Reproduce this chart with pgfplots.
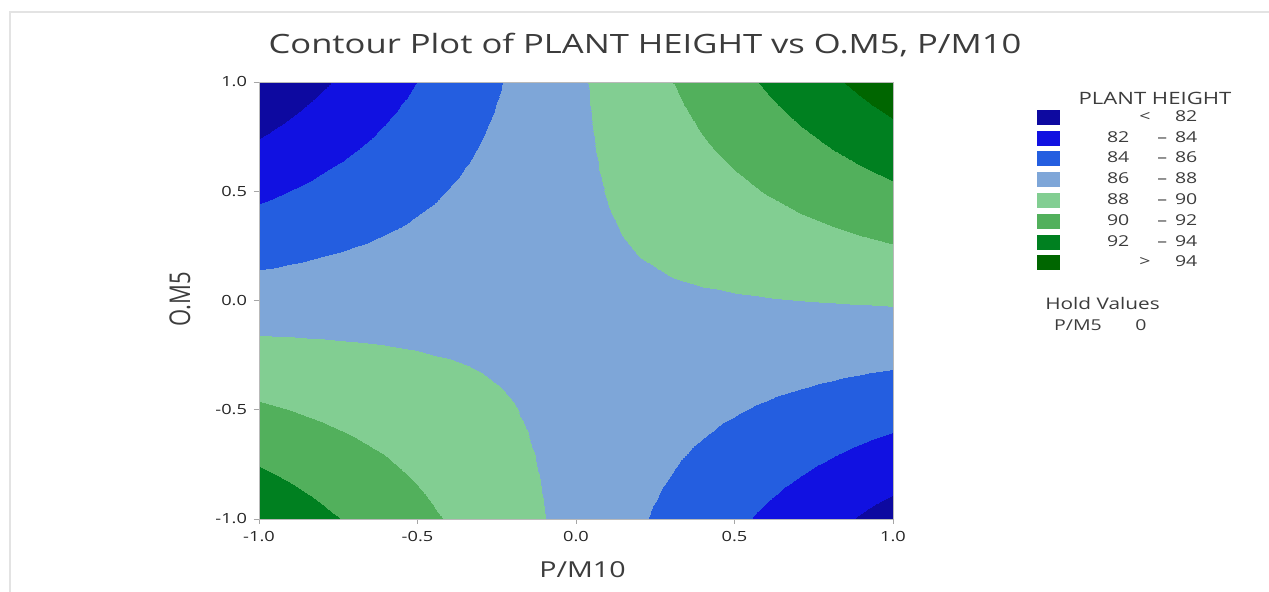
\documentclass[border=0pt]{standalone}
\usepackage{pgfplots}
\pgfplotsset{compat=1.18}
\usepackage{fontspec}
\setmainfont{Open Sans}
\usepackage{graphicx}
\newcommand\hs[1]{\scalebox{1.3}[1]{#1}}
\definecolor{txt}{RGB}{60,60,60}
\definecolor{cA}{RGB}{13,9,160}
\definecolor{cB}{RGB}{17,17,225}
\definecolor{cC}{RGB}{36,94,224}
\definecolor{cD}{RGB}{126,166,216}
\definecolor{cE}{RGB}{130,206,146}
\definecolor{cF}{RGB}{82,176,92}
\definecolor{cG}{RGB}{0,128,32}
\definecolor{cH}{RGB}{0,102,0}
\newcommand\lgA[2]{\makebox[34.5pt][r]{\hs{#1}}\makebox[20.5pt][l]{\hspace{14pt}\hs{–}}\makebox[13.5pt][r]{\hs{#2}}}
\newcommand\lgB[2]{\makebox[34.5pt][r]{}\makebox[20.5pt][l]{\hspace{5pt}\hs{#1}}\makebox[13.5pt][r]{\hs{#2}}}
\begin{document}
\begin{tikzpicture}
\useasboundingbox (-129.5pt,-36.5pt) rectangle (505pt,259.5pt);
\draw[gray!22, line width=0.6pt] (-124.5pt,-36.5pt) -- (-124.5pt,253.5pt) -- (505pt,253.5pt);
\begin{axis}[
  at={(0pt,0pt)}, anchor=south west,
  view={0}{90},
  width=317pt, height=218.5pt, scale only axis,
  xmin=-1, xmax=1, ymin=-1, ymax=1,
  enlargelimits=false,
  xtick={-1,-0.5,0,0.5,1}, ytick={-1,-0.5,0,0.5,1}, ztick=\empty,
  xticklabel={\hs{\pgfmathprintnumber[fixed,fixed zerofill,precision=1,assume math mode=true]{\tick}}},
  yticklabel={\hs{\pgfmathprintnumber[fixed,fixed zerofill,precision=1,assume math mode=true]{\tick}}},
  tick label style={font=\fontsize{7}{8}\selectfont, text=black!85},
  tick align=outside, tick pos=left, major tick length=2.5pt,
  axis line style={gray!55},
  every tick/.style={gray!70},
  axis on top,
  colormap={ph}{rgb255(80)=(13,9,160) rgb255(82)=(17,17,225) rgb255(84)=(36,94,224) rgb255(86)=(126,166,216) rgb255(88)=(130,206,146) rgb255(90)=(82,176,92) rgb255(92)=(0,128,32) rgb255(94)=(0,102,0) rgb255(96)=(0,102,0)},
  colormap access=piecewise constant,
  point meta min=80, point meta max=96,
  legend style={at={(1.2271,0.9371)}, anchor=north west, draw=none, fill=none, inner sep=0pt, row sep=2.9pt, column sep=0pt, nodes={inner sep=0pt, text=txt, font=\fontsize{7.5}{9}\selectfont}},
  legend cell align=left,
  legend image code/.code={\fill[#1,draw=none] (0pt,-3.75pt) rectangle (11.5pt,3.75pt);},
]
\addplot3[surf, shader=interp, mesh/cols=21, forget plot] coordinates {
(-1,-1,93.595) (-0.9,-1,92.977) (-0.8,-1,92.359) (-0.7,-1,91.741) (-0.6,-1,91.123) (-0.5,-1,90.505) (-0.4,-1,89.887) (-0.3,-1,89.269) (-0.2,-1,88.651) (-0.1,-1,88.033) (0,-1,87.415) (0.1,-1,86.797) (0.2,-1,86.179) (0.3,-1,85.561) (0.4,-1,84.943) (0.5,-1,84.325) (0.6,-1,83.707) (0.7,-1,83.089) (0.8,-1,82.471) (0.9,-1,81.853) (1,-1,81.235)
(-1,-0.9,92.930) (-0.9,-0.9,92.380) (-0.8,-0.9,91.830) (-0.7,-0.9,91.280) (-0.6,-0.9,90.730) (-0.5,-0.9,90.180) (-0.4,-0.9,89.630) (-0.3,-0.9,89.080) (-0.2,-0.9,88.530) (-0.1,-0.9,87.980) (0,-0.9,87.431) (0.1,-0.9,86.881) (0.2,-0.9,86.331) (0.3,-0.9,85.781) (0.4,-0.9,85.231) (0.5,-0.9,84.681) (0.6,-0.9,84.131) (0.7,-0.9,83.581) (0.8,-0.9,83.031) (0.9,-0.9,82.481) (1,-0.9,81.932)
(-1,-0.8,92.264) (-0.9,-0.8,91.782) (-0.8,-0.8,91.300) (-0.7,-0.8,90.819) (-0.6,-0.8,90.337) (-0.5,-0.8,89.855) (-0.4,-0.8,89.373) (-0.3,-0.8,88.891) (-0.2,-0.8,88.410) (-0.1,-0.8,87.928) (0,-0.8,87.446) (0.1,-0.8,86.964) (0.2,-0.8,86.482) (0.3,-0.8,86.001) (0.4,-0.8,85.519) (0.5,-0.8,85.037) (0.6,-0.8,84.555) (0.7,-0.8,84.073) (0.8,-0.8,83.592) (0.9,-0.8,83.110) (1,-0.8,82.628)
(-1,-0.7,91.599) (-0.9,-0.7,91.185) (-0.8,-0.7,90.771) (-0.7,-0.7,90.357) (-0.6,-0.7,89.944) (-0.5,-0.7,89.530) (-0.4,-0.7,89.116) (-0.3,-0.7,88.703) (-0.2,-0.7,88.289) (-0.1,-0.7,87.875) (0,-0.7,87.462) (0.1,-0.7,87.048) (0.2,-0.7,86.634) (0.3,-0.7,86.220) (0.4,-0.7,85.807) (0.5,-0.7,85.393) (0.6,-0.7,84.979) (0.7,-0.7,84.566) (0.8,-0.7,84.152) (0.9,-0.7,83.738) (1,-0.7,83.325)
(-1,-0.6,90.933) (-0.9,-0.6,90.587) (-0.8,-0.6,90.242) (-0.7,-0.6,89.896) (-0.6,-0.6,89.551) (-0.5,-0.6,89.205) (-0.4,-0.6,88.859) (-0.3,-0.6,88.514) (-0.2,-0.6,88.168) (-0.1,-0.6,87.823) (0,-0.6,87.477) (0.1,-0.6,87.131) (0.2,-0.6,86.786) (0.3,-0.6,86.440) (0.4,-0.6,86.095) (0.5,-0.6,85.749) (0.6,-0.6,85.403) (0.7,-0.6,85.058) (0.8,-0.6,84.712) (0.9,-0.6,84.367) (1,-0.6,84.021)
(-1,-0.5,90.268) (-0.9,-0.5,89.990) (-0.8,-0.5,89.713) (-0.7,-0.5,89.435) (-0.6,-0.5,89.158) (-0.5,-0.5,88.880) (-0.4,-0.5,88.603) (-0.3,-0.5,88.325) (-0.2,-0.5,88.048) (-0.1,-0.5,87.770) (0,-0.5,87.493) (0.1,-0.5,87.215) (0.2,-0.5,86.938) (0.3,-0.5,86.660) (0.4,-0.5,86.383) (0.5,-0.5,86.105) (0.6,-0.5,85.828) (0.7,-0.5,85.550) (0.8,-0.5,85.273) (0.9,-0.5,84.995) (1,-0.5,84.718)
(-1,-0.4,89.602) (-0.9,-0.4,89.393) (-0.8,-0.4,89.183) (-0.7,-0.4,88.974) (-0.6,-0.4,88.764) (-0.5,-0.4,88.555) (-0.4,-0.4,88.346) (-0.3,-0.4,88.136) (-0.2,-0.4,87.927) (-0.1,-0.4,87.717) (0,-0.4,87.508) (0.1,-0.4,87.299) (0.2,-0.4,87.089) (0.3,-0.4,86.880) (0.4,-0.4,86.670) (0.5,-0.4,86.461) (0.6,-0.4,86.252) (0.7,-0.4,86.042) (0.8,-0.4,85.833) (0.9,-0.4,85.623) (1,-0.4,85.414)
(-1,-0.3,88.937) (-0.9,-0.3,88.795) (-0.8,-0.3,88.654) (-0.7,-0.3,88.513) (-0.6,-0.3,88.371) (-0.5,-0.3,88.230) (-0.4,-0.3,88.089) (-0.3,-0.3,87.947) (-0.2,-0.3,87.806) (-0.1,-0.3,87.665) (0,-0.3,87.524) (0.1,-0.3,87.382) (0.2,-0.3,87.241) (0.3,-0.3,87.100) (0.4,-0.3,86.958) (0.5,-0.3,86.817) (0.6,-0.3,86.676) (0.7,-0.3,86.534) (0.8,-0.3,86.393) (0.9,-0.3,86.252) (1,-0.3,86.111)
(-1,-0.2,88.271) (-0.9,-0.2,88.198) (-0.8,-0.2,88.125) (-0.7,-0.2,88.051) (-0.6,-0.2,87.978) (-0.5,-0.2,87.905) (-0.4,-0.2,87.832) (-0.3,-0.2,87.759) (-0.2,-0.2,87.685) (-0.1,-0.2,87.612) (0,-0.2,87.539) (0.1,-0.2,87.466) (0.2,-0.2,87.393) (0.3,-0.2,87.319) (0.4,-0.2,87.246) (0.5,-0.2,87.173) (0.6,-0.2,87.100) (0.7,-0.2,87.027) (0.8,-0.2,86.953) (0.9,-0.2,86.880) (1,-0.2,86.807)
(-1,-0.1,87.606) (-0.9,-0.1,87.600) (-0.8,-0.1,87.595) (-0.7,-0.1,87.590) (-0.6,-0.1,87.585) (-0.5,-0.1,87.580) (-0.4,-0.1,87.575) (-0.3,-0.1,87.570) (-0.2,-0.1,87.565) (-0.1,-0.1,87.560) (0,-0.1,87.555) (0.1,-0.1,87.549) (0.2,-0.1,87.544) (0.3,-0.1,87.539) (0.4,-0.1,87.534) (0.5,-0.1,87.529) (0.6,-0.1,87.524) (0.7,-0.1,87.519) (0.8,-0.1,87.514) (0.9,-0.1,87.509) (1,-0.1,87.504)
(-1,0,86.940) (-0.9,0,87.003) (-0.8,0,87.066) (-0.7,0,87.129) (-0.6,0,87.192) (-0.5,0,87.255) (-0.4,0,87.318) (-0.3,0,87.381) (-0.2,0,87.444) (-0.1,0,87.507) (0,0,87.570) (0.1,0,87.633) (0.2,0,87.696) (0.3,0,87.759) (0.4,0,87.822) (0.5,0,87.885) (0.6,0,87.948) (0.7,0,88.011) (0.8,0,88.074) (0.9,0,88.137) (1,0,88.200)
(-1,0.1,86.275) (-0.9,0.1,86.406) (-0.8,0.1,86.537) (-0.7,0.1,86.668) (-0.6,0.1,86.799) (-0.5,0.1,86.930) (-0.4,0.1,87.061) (-0.3,0.1,87.192) (-0.2,0.1,87.323) (-0.1,0.1,87.454) (0,0.1,87.586) (0.1,0.1,87.717) (0.2,0.1,87.848) (0.3,0.1,87.979) (0.4,0.1,88.110) (0.5,0.1,88.241) (0.6,0.1,88.372) (0.7,0.1,88.503) (0.8,0.1,88.634) (0.9,0.1,88.765) (1,0.1,88.897)
(-1,0.2,85.609) (-0.9,0.2,85.808) (-0.8,0.2,86.007) (-0.7,0.2,86.207) (-0.6,0.2,86.406) (-0.5,0.2,86.605) (-0.4,0.2,86.804) (-0.3,0.2,87.003) (-0.2,0.2,87.203) (-0.1,0.2,87.402) (0,0.2,87.601) (0.1,0.2,87.800) (0.2,0.2,87.999) (0.3,0.2,88.199) (0.4,0.2,88.398) (0.5,0.2,88.597) (0.6,0.2,88.796) (0.7,0.2,88.995) (0.8,0.2,89.195) (0.9,0.2,89.394) (1,0.2,89.593)
(-1,0.3,84.944) (-0.9,0.3,85.211) (-0.8,0.3,85.478) (-0.7,0.3,85.745) (-0.6,0.3,86.013) (-0.5,0.3,86.280) (-0.4,0.3,86.547) (-0.3,0.3,86.815) (-0.2,0.3,87.082) (-0.1,0.3,87.349) (0,0.3,87.617) (0.1,0.3,87.884) (0.2,0.3,88.151) (0.3,0.3,88.418) (0.4,0.3,88.686) (0.5,0.3,88.953) (0.6,0.3,89.220) (0.7,0.3,89.488) (0.8,0.3,89.755) (0.9,0.3,90.022) (1,0.3,90.290)
(-1,0.4,84.278) (-0.9,0.4,84.613) (-0.8,0.4,84.949) (-0.7,0.4,85.284) (-0.6,0.4,85.620) (-0.5,0.4,85.955) (-0.4,0.4,86.290) (-0.3,0.4,86.626) (-0.2,0.4,86.961) (-0.1,0.4,87.297) (0,0.4,87.632) (0.1,0.4,87.967) (0.2,0.4,88.303) (0.3,0.4,88.638) (0.4,0.4,88.974) (0.5,0.4,89.309) (0.6,0.4,89.644) (0.7,0.4,89.980) (0.8,0.4,90.315) (0.9,0.4,90.651) (1,0.4,90.986)
(-1,0.5,83.613) (-0.9,0.5,84.016) (-0.8,0.5,84.420) (-0.7,0.5,84.823) (-0.6,0.5,85.227) (-0.5,0.5,85.630) (-0.4,0.5,86.034) (-0.3,0.5,86.437) (-0.2,0.5,86.841) (-0.1,0.5,87.244) (0,0.5,87.648) (0.1,0.5,88.051) (0.2,0.5,88.455) (0.3,0.5,88.858) (0.4,0.5,89.262) (0.5,0.5,89.665) (0.6,0.5,90.069) (0.7,0.5,90.472) (0.8,0.5,90.876) (0.9,0.5,91.279) (1,0.5,91.683)
(-1,0.6,82.947) (-0.9,0.6,83.419) (-0.8,0.6,83.890) (-0.7,0.6,84.362) (-0.6,0.6,84.833) (-0.5,0.6,85.305) (-0.4,0.6,85.777) (-0.3,0.6,86.248) (-0.2,0.6,86.720) (-0.1,0.6,87.191) (0,0.6,87.663) (0.1,0.6,88.135) (0.2,0.6,88.606) (0.3,0.6,89.078) (0.4,0.6,89.549) (0.5,0.6,90.021) (0.6,0.6,90.493) (0.7,0.6,90.964) (0.8,0.6,91.436) (0.9,0.6,91.907) (1,0.6,92.379)
(-1,0.7,82.282) (-0.9,0.7,82.821) (-0.8,0.7,83.361) (-0.7,0.7,83.901) (-0.6,0.7,84.440) (-0.5,0.7,84.980) (-0.4,0.7,85.520) (-0.3,0.7,86.059) (-0.2,0.7,86.599) (-0.1,0.7,87.139) (0,0.7,87.679) (0.1,0.7,88.218) (0.2,0.7,88.758) (0.3,0.7,89.298) (0.4,0.7,89.837) (0.5,0.7,90.377) (0.6,0.7,90.917) (0.7,0.7,91.456) (0.8,0.7,91.996) (0.9,0.7,92.536) (1,0.7,93.076)
(-1,0.8,81.616) (-0.9,0.8,82.224) (-0.8,0.8,82.832) (-0.7,0.8,83.439) (-0.6,0.8,84.047) (-0.5,0.8,84.655) (-0.4,0.8,85.263) (-0.3,0.8,85.871) (-0.2,0.8,86.478) (-0.1,0.8,87.086) (0,0.8,87.694) (0.1,0.8,88.302) (0.2,0.8,88.910) (0.3,0.8,89.517) (0.4,0.8,90.125) (0.5,0.8,90.733) (0.6,0.8,91.341) (0.7,0.8,91.949) (0.8,0.8,92.556) (0.9,0.8,93.164) (1,0.8,93.772)
(-1,0.9,80.951) (-0.9,0.9,81.626) (-0.8,0.9,82.302) (-0.7,0.9,82.978) (-0.6,0.9,83.654) (-0.5,0.9,84.330) (-0.4,0.9,85.006) (-0.3,0.9,85.682) (-0.2,0.9,86.358) (-0.1,0.9,87.034) (0,0.9,87.710) (0.1,0.9,88.385) (0.2,0.9,89.061) (0.3,0.9,89.737) (0.4,0.9,90.413) (0.5,0.9,91.089) (0.6,0.9,91.765) (0.7,0.9,92.441) (0.8,0.9,93.117) (0.9,0.9,93.793) (1,0.9,94.469)
(-1,1,80.285) (-0.9,1,81.029) (-0.8,1,81.773) (-0.7,1,82.517) (-0.6,1,83.261) (-0.5,1,84.005) (-0.4,1,84.749) (-0.3,1,85.493) (-0.2,1,86.237) (-0.1,1,86.981) (0,1,87.725) (0.1,1,88.469) (0.2,1,89.213) (0.3,1,89.957) (0.4,1,90.701) (0.5,1,91.445) (0.6,1,92.189) (0.7,1,92.933) (0.8,1,93.677) (0.9,1,94.421) (1,1,95.165)
};
\addlegendimage{fill=cA}\addlegendentry{\lgB{<}{82}}
\addlegendimage{fill=cB}\addlegendentry{\lgA{82}{84}}
\addlegendimage{fill=cC}\addlegendentry{\lgA{84}{86}}
\addlegendimage{fill=cD}\addlegendentry{\lgA{86}{88}}
\addlegendimage{fill=cE}\addlegendentry{\lgA{88}{90}}
\addlegendimage{fill=cF}\addlegendentry{\lgA{90}{92}}
\addlegendimage{fill=cG}\addlegendentry{\lgA{92}{94}}
\addlegendimage{fill=cH}\addlegendentry{\lgB{>}{94}}
\end{axis}
\node[font=\fontsize{13.3}{16}\selectfont, text=txt] at (193pt,237pt) {\hs{Contour Plot of PLANT HEIGHT vs O.M5, P/M10}};
\node[font=\fontsize{11}{13}\selectfont, text=txt] at (161.75pt,-25.5pt) {\hs{P/M10}};
\node[font=\fontsize{11}{13}\selectfont, text=txt, rotate=90] at (-39.5pt,110pt) {\scalebox{1}[1.3]{O.M5}};
\node[font=\fontsize{8.5}{10}\selectfont, text=txt] at (448pt,210.5pt) {\hs{PLANT HEIGHT}};
\node[font=\fontsize{8}{10}\selectfont, text=txt] at (421.75pt,107.5pt) {\hs{Hold Values}};
\node[font=\fontsize{7.5}{9}\selectfont, text=txt] at (409.5pt,97pt) {\hs{P/M5}};
\node[font=\fontsize{7.5}{9}\selectfont, text=txt] at (441pt,97pt) {\hs{0}};
\end{tikzpicture}
\end{document}
